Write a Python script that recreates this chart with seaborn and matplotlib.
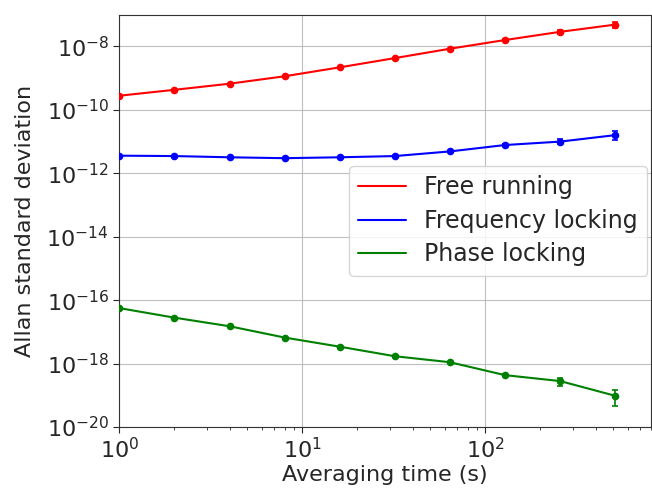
import numpy as np
import pandas as pd
import matplotlib
matplotlib.use("Agg")
import matplotlib.pyplot as plt
import seaborn as sns

tau = [1, 2, 4, 8, 16, 32, 64, 128, 256, 512]
free_running = [2.8e-10, 4.3e-10, 6.7e-10, 1.15e-9, 2.2e-9, 4.3e-9, 8.5e-9, 1.6e-8, 2.9e-8, 4.9e-8]
free_err = [0, 0, 0, 0, 0, 0, 0, 1.5e-9, 5e-9, 1.2e-8]
freq_locking = [3.6e-12, 3.5e-12, 3.2e-12, 3.0e-12, 3.2e-12, 3.5e-12, 4.9e-12, 7.8e-12, 1.0e-11, 1.6e-11]
freq_err = [0, 0, 0, 0, 0, 0, 0, 6e-13, 1.8e-12, 5e-12]
phase_locking = [5.6e-17, 2.8e-17, 1.5e-17, 6.6e-18, 3.4e-18, 1.7e-18, 1.1e-18, 4.3e-19, 2.8e-19, 9.6e-20]
phase_err = [0, 0, 0, 0, 0, 0, 0, 4e-20, 8e-20, 5e-20]
labels = ["Free running", "Frequency locking", "Phase locking"]
colors = ["red", "blue", "green"]

sns.set_style("ticks")
plt.rcParams["font.family"] = ["DejaVu Sans"]
plt.rcParams["axes.unicode_minus"] = False

fig = plt.figure(figsize=(6.52, 4.93), dpi=100)
ax = fig.add_axes([0.183, 0.134, 0.815, 0.836])

series = [free_running, freq_locking, phase_locking]
errs = [free_err, freq_err, phase_err]
rows = []
for lab, vals in zip(labels, series):
    for t, v in zip(tau, vals):
        rows.append({"tau": t, "adev": v, "series": lab})
df = pd.DataFrame(rows)

sns.lineplot(data=df, x="tau", y="adev", hue="series", palette=dict(zip(labels, colors)),
             ax=ax, linewidth=1.5, legend=True, zorder=4)
for vals, e, c in zip(series, errs, colors):
    ax.errorbar(tau, vals, yerr=e, fmt="o", color=c, markersize=4.5, capsize=2.5,
                elinewidth=1.2, capthick=1.2, zorder=5)

ax.set_xscale("log")
ax.set_yscale("log")
ax.set_xlim(1, 800)
ax.set_ylim(1e-20, 1e-7)
ax.set_yticks([1e-20, 1e-18, 1e-16, 1e-14, 1e-12, 1e-10, 1e-8])
ax.yaxis.set_minor_locator(matplotlib.ticker.NullLocator())
ax.grid(True, which="major", color="#b0b0b0", linewidth=0.8, alpha=0.8)
ax.tick_params(axis="both", which="major", labelsize=16, length=4, direction="out")
ax.tick_params(axis="x", which="minor", length=2.5)
ax.set_xlabel("Averaging time (s)", fontsize=16, labelpad=2)
ax.set_ylabel("Allan standard deviation", fontsize=16, labelpad=8)
for s in ax.spines.values():
    s.set_color("#333333")

leg = ax.legend(title=None, fontsize=17, loc="upper left", bbox_to_anchor=(0.432, 0.633),
                framealpha=0.8, handlelength=2.0, borderaxespad=0, labelspacing=0.4)
leg.set_zorder(3)

fig.savefig("out.png", dpi=100)
